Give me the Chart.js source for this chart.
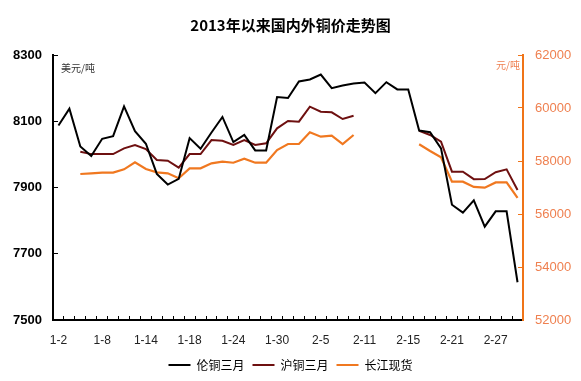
<!DOCTYPE html>
<html>
<head>
<meta charset="utf-8">
<script src="https://cdn.jsdelivr.net/npm/chart.js@4"></script>
<style>
html,body{margin:0;padding:0;background:#fff;}
#wrap{width:581px;height:381px;position:relative;}
</style>
</head>
<body>
<div id="wrap"><canvas id="c" width="581" height="381"></canvas></div>
<script>
const categories = ['1-2','1-3','1-4','1-7','1-8','1-9','1-10','1-11','1-14','1-15','1-16','1-17','1-18','1-21','1-22','1-23','1-24','1-25','1-28','1-29','1-30','1-31','2-1','2-4','2-5','2-6','2-7','2-8','2-11','2-12','2-13','2-14','2-15','2-18','2-19','2-20','2-21','2-22','2-25','2-26','2-27','2-28','3-1'];
const tickLabels = ['1-2','1-8','1-14','1-18','1-24','1-30','2-5','2-11','2-15','2-21','2-27'];

// 伦铜三月 (USD/t, left axis)
const lmeCopper = [8087,8138,8024,7995,8047,8055,8145,8070,8032,7941,7909,7926,8049,8017,8066,8113,8037,8059,8012,8012,8173,8170,8220,8226,8241,8200,8208,8214,8217,8185,8218,8196,8196,8072,8067,8018,7848,7824,7861,7782,7828,7828,7614];
// 沪铜三月 (CNY/t, right axis)
const shfeCopper = [null,null,58351,58260,58260,58260,58479,58603,58452,58037,58011,57747,58264,58264,58792,58766,58603,58792,58603,58667,59234,59509,59483,60049,59860,59837,59585,59709,null,null,null,null,null,59143,58981,58728,57596,57596,57315,57320,57578,57686,56905];
// 长江现货 (CNY/t, right axis)
const yangtzeSpot = [null,null,57509,57535,57560,57560,57686,57950,57698,57573,57535,57347,57724,57724,57913,57973,57935,58086,57935,57935,58415,58641,58641,59083,58917,58955,58641,58981,null,null,null,null,null,58630,58377,58139,57219,57219,57020,56992,57190,57196,56610];

const seriesNames = ['伦铜三月','沪铜三月','长江现货'];
const colors = ['#000000','#6E1010','#F07820'];
const rightLabelColor = '#EF8050';
const rightAxisColor = '#F07418';

const unitPlugin = {
  id: 'units',
  afterDraw(chart) {
    const {ctx, chartArea} = chart;
    ctx.save();
    ctx.font = '10px "Noto Sans CJK SC", sans-serif';
    ctx.textBaseline = 'middle';
    ctx.fillStyle = '#333';
    ctx.textAlign = 'left';
    ctx.fillText('美元/吨', chartArea.left + 8, chartArea.top + 13);
    ctx.fillStyle = rightLabelColor;
    ctx.textAlign = 'right';
    ctx.fillText('元/吨', chartArea.right - 3, chartArea.top + 10);
    ctx.restore();
  }
};

new Chart(document.getElementById('c'), {
  type: 'line',
  data: {
    labels: categories,
    datasets: [
      {label: seriesNames[0], data: lmeCopper, yAxisID: 'yL', borderColor: colors[0], backgroundColor: colors[0], borderWidth: 2, pointRadius: 0, tension: 0, spanGaps: false},
      {label: seriesNames[1], data: shfeCopper, yAxisID: 'yR', borderColor: colors[1], backgroundColor: colors[1], borderWidth: 2, pointRadius: 0, tension: 0, spanGaps: false},
      {label: seriesNames[2], data: yangtzeSpot, yAxisID: 'yR', borderColor: colors[2], backgroundColor: colors[2], borderWidth: 2.2, pointRadius: 0, tension: 0, spanGaps: false}
    ]
  },
  options: {
    responsive: false,
    animation: false,
    devicePixelRatio: 1,
    layout: {padding: {left: 0, right: 0, top: 0, bottom: 0}},
    plugins: {
      title: {
        display: true,
        text: '2013年以来国内外铜价走势图',
        color: '#000',
        font: {family: '"Noto Sans CJK SC", sans-serif', size: 15, weight: 'bold', lineHeight: 1.2},
        padding: {top: 16, bottom: 21}
      },
      legend: {
        position: 'bottom',
        labels: {
          color: '#000',
          font: {family: '"Noto Sans CJK SC", sans-serif', size: 12},
          boxWidth: 22,
          boxHeight: 0,
          padding: 8
        }
      },
      tooltip: {enabled: false}
    },
    scales: {
      x: {
        type: 'category',
        offset: true,
        afterFit(s) { s.height = 31; },
        grid: {display: true, offset: true, drawOnChartArea: false, drawTicks: true, tickLength: -4, color: '#000', lineWidth: 1},
        border: {display: true, color: '#000', width: 2},
        ticks: {
          autoSkip: false, maxRotation: 0, padding: 17, color: '#222',
          font: {family: 'Liberation Sans, Arial, sans-serif', size: 12},
          callback(v, i) { const l = categories[i]; return tickLabels.includes(l) && i % 4 === 0 ? l : ''; }
        }
      },
      yL: {
        type: 'linear',
        position: 'left',
        min: 7500, max: 8300,
        afterFit(s) { s.width = 53; },
        grid: {display: true, drawOnChartArea: false, drawTicks: true, tickLength: -5, color: '#000', lineWidth: 1},
        border: {display: true, color: '#000', width: 2},
        ticks: {stepSize: 200, padding: 16, color: '#000', font: {family: 'Liberation Sans, Arial, sans-serif', size: 13, weight: 'bold'}, callback: v => String(v)}
      },
      yR: {
        type: 'linear',
        position: 'right',
        min: 52000, max: 62000,
        afterFit(s) { s.width = 58; },
        grid: {display: true, drawOnChartArea: false, drawTicks: true, tickLength: -5, color: rightAxisColor, lineWidth: 1},
        border: {display: true, color: rightAxisColor, width: 2},
        ticks: {stepSize: 2000, padding: 17, color: rightLabelColor, font: {family: 'Liberation Sans, Arial, sans-serif', size: 13}, callback: v => String(v)}
      }
    }
  },
  plugins: [unitPlugin]
});
</script>
</body>
</html>
